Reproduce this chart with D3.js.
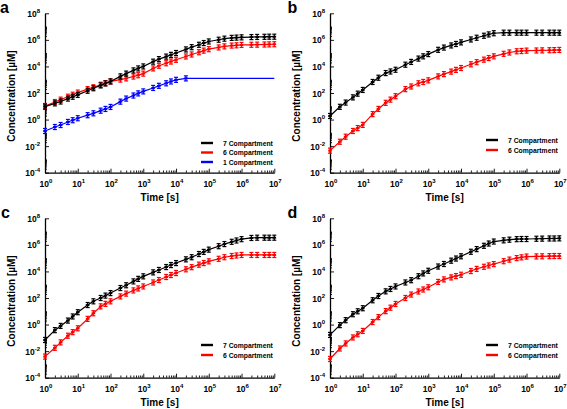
<!DOCTYPE html>
<html>
<head>
<meta charset="utf-8">
<script src="https://cdn.jsdelivr.net/npm/d3@7"></script>
<style>
body{margin:0;background:#fff;}
text{font-family:"Liberation Sans",Arial,Helvetica,sans-serif;font-weight:bold;fill:#000;}
</style>
</head>
<body>
<svg id="chart" width="567" height="409"></svg>
<script>
// ---------------- data ----------------
const times = [1,2,3,5,7, 10,20,30,50,70, 100,200,300,500,700, 1e3,2e3,3e3,5e3,7e3,
  1e4,2e4,3e4,5e4,7e4, 1e5,2e5,3e5,5e5,7e5, 1e6,2e6,3e6,5e6,7e6, 1e7];

// concentrations given as log10 of value in µM
const a_7comp_log10 = [0.97,1.22,1.36,1.58,1.72, 1.86,2.17,2.36,2.57,2.72, 2.87,3.25,3.46,3.70,3.85,
  4.00,4.36,4.55,4.74,4.87, 5.01,5.28,5.45,5.63,5.76, 5.88,6.01,6.09,6.15,6.17, 6.19,6.21,6.22,6.23,6.24, 6.24];
const a_6comp_log10 = [1.02,1.32,1.50,1.72,1.87, 2.03,2.29,2.43,2.62,2.74, 2.87,3.01,3.10,3.24,3.34,
  3.46,3.85,4.05,4.24,4.37, 4.50,4.75,4.90,5.07,5.19, 5.30,5.43,5.51,5.57,5.59, 5.62,5.63,5.64,5.65,5.66, 5.67];
const a_1comp_log10 = [-0.86,-0.56,-0.41,-0.18,-0.05, 0.10,0.33,0.47,0.67,0.80, 0.95,1.35,1.58,1.81,1.97,
  2.12,2.38,2.54,2.73,2.87, 2.99,3.10,3.10,3.10,3.10, 3.10,3.10,3.10,3.10,3.10, 3.10,3.10,3.10,3.10,3.10, 3.10];

const b_7comp_log10 = [0.27,0.96,1.28,1.67,1.95, 2.23,2.83,3.15,3.50,3.62, 3.75,4.13,4.34,4.59,4.76,
  4.93,5.25,5.42,5.58,5.69, 5.81,6.03,6.16,6.31,6.41, 6.50,6.54,6.54,6.54,6.54, 6.54,6.54,6.54,6.54,6.54, 6.54];
const b_6comp_log10 = [-2.34,-1.67,-1.29,-0.86,-0.64, -0.40,0.41,0.80,1.26,1.50, 1.76,2.29,2.49,2.73,2.83,
  2.95,3.25,3.42,3.61,3.74, 3.88,4.16,4.32,4.51,4.63, 4.76,4.95,5.05,5.14,5.16, 5.19,5.20,5.21,5.22,5.23, 5.24];

const c_7comp_log10 = [-1.16,-0.42,-0.10,0.30,0.61, 0.93,1.47,1.75,2.00,2.18, 2.37,2.75,2.96,3.25,3.44,
  3.63,3.93,4.11,4.33,4.48, 4.63,4.91,5.07,5.31,5.47, 5.64,5.90,6.06,6.23,6.33, 6.43,6.52,6.54,6.54,6.54, 6.54];
const c_6comp_log10 = [-2.41,-1.75,-1.34,-0.84,-0.57, -0.28,0.43,0.85,1.37,1.56, 1.75,2.12,2.33,2.57,2.72,
  2.87,3.17,3.35,3.58,3.73, 3.88,4.16,4.32,4.51,4.63, 4.76,4.95,5.07,5.16,5.20, 5.24,5.24,5.24,5.24,5.24, 5.24];

const d_7comp_log10 = [-0.78,-0.04,0.33,0.78,1.00, 1.23,1.83,2.15,2.50,2.68, 2.87,3.17,3.34,3.64,3.85,
  4.05,4.37,4.56,4.81,4.97, 5.14,5.48,5.68,5.93,6.10, 6.25,6.34,6.39,6.43,6.44, 6.44,6.46,6.47,6.48,6.48, 6.49];
const d_6comp_log10 = [-2.59,-1.80,-1.42,-0.97,-0.73, -0.48,0.19,0.56,1.01,1.27, 1.55,2.00,2.26,2.49,2.64,
  2.81,3.21,3.40,3.55,3.65, 3.75,4.03,4.19,4.35,4.45, 4.55,4.77,4.89,5.00,5.06, 5.12,5.13,5.14,5.15,5.16, 5.16];

const errorHalfLog10 = 0.19;           // error bar half-height (decades)
const blueMarkersUntil = 2e4;           // 1-compartment markers shown up to this time

const seriesNames = ["7 Compartment", "6 Compartment", "1 Compartment"];
const xTickExps = [0,1,2,3,4,5,6,7];
const yTickExps = [-4,-2,0,2,4,6,8];
const panelLabels = ["a","b","c","d"];
const xTitle = "Time [s]";
const yTitle = "Concentration [µM]";

// ---------------- layout ----------------
const colors = {"7 Compartment":"#000000","6 Compartment":"#ff0000","1 Compartment":"#0000ff"};
const panels = [
  {label:panelLabels[0], x0:45, x1:274.3, yT:13.3, yB:172.7, lx:0, ly:13,
   series:[["1 Compartment",a_1comp_log10],["6 Compartment",a_6comp_log10],["7 Compartment",a_7comp_log10]],
   legX:201, legY:[143,152.5,162]},
  {label:panelLabels[1], x0:330, x1:559.3, yT:13.3, yB:172.7, lx:287.5, ly:13,
   series:[["6 Compartment",b_6comp_log10],["7 Compartment",b_7comp_log10]],
   legX:486, legY:[140,150]},
  {label:panelLabels[2], x0:45, x1:274.3, yT:218.3, yB:377.7, lx:1, ly:218,
   series:[["6 Compartment",c_6comp_log10],["7 Compartment",c_7comp_log10]],
   legX:201, legY:[345,355]},
  {label:panelLabels[3], x0:330, x1:559.3, yT:218.3, yB:377.7, lx:287.5, ly:218,
   series:[["6 Compartment",d_6comp_log10],["7 Compartment",d_7comp_log10]],
   legX:486, legY:[345,355]}
];

const svg = d3.select("#chart");

function powLabel(g, x, y, exp, anchor){
  const t = g.append("text").attr("x", x).attr("y", y).attr("text-anchor", anchor)
    .style("font-size","8.5px");
  t.append("tspan").text("10");
  t.append("tspan").attr("dy", -4).style("font-size","6px").text(String(exp));
  return t;
}

panels.forEach(p => {
  const g = svg.append("g");
  const x = d3.scaleLog().domain([1, 1e7]).range([p.x0, p.x1]);
  const y = d3.scaleLog().domain([1e-4, 1e8]).range([p.yB, p.yT]);

  const xMinor = [];
  for (let k = 0; k < 7; k++) for (let m = 2; m <= 9; m++) xMinor.push(m * Math.pow(10, k));
  const yMinor = [];
  for (let k = -4; k < 8; k += 2) {
    for (let m = 2; m <= 9; m++) yMinor.push(m * Math.pow(10, k));
    yMinor.push(Math.pow(10, k + 1));
  }

  // x axis
  const gx = g.append("g").attr("transform", `translate(0,${p.yB})`);
  gx.call(d3.axisBottom(x).tickValues(xTickExps.map(e => Math.pow(10, e)))
      .tickSize(-4).tickSizeOuter(0).tickFormat(() => ""));
  const gxm = g.append("g").attr("transform", `translate(0,${p.yB})`);
  gxm.call(d3.axisBottom(x).tickValues(xMinor).tickSize(-2.2).tickSizeOuter(0).tickFormat(() => ""));
  gxm.select(".domain").remove();

  // y axis
  const gy = g.append("g").attr("transform", `translate(${p.x0},0)`);
  gy.call(d3.axisLeft(y).tickValues(yTickExps.map(e => Math.pow(10, e)))
      .tickSize(-4).tickSizeOuter(0).tickFormat(() => ""));
  const gym = g.append("g").attr("transform", `translate(${p.x0},0)`);
  gym.call(d3.axisLeft(y).tickValues(yMinor).tickSize(-2).tickSizeOuter(0).tickFormat(() => ""));
  gym.select(".domain").remove();

  g.selectAll(".domain").attr("stroke", "#000").attr("stroke-width", 1.3);
  g.selectAll(".tick line").attr("stroke", "#000").attr("stroke-width", 0.9);

  xTickExps.forEach(e => powLabel(g, x(Math.pow(10, e)) + 1, p.yB + 14.5, e, "middle"));
  yTickExps.forEach(e => powLabel(g, p.x0 - 5, y(Math.pow(10, e)) + 3.5, e, "end"));

  g.append("text").attr("x", (p.x0 + p.x1) / 2).attr("y", p.yB + 28.5)
    .attr("text-anchor", "middle").style("font-size", "10px").text(xTitle);
  g.append("text")
    .attr("transform", `translate(${p.x0 - 30},${(p.yT + p.yB) / 2 + 3}) rotate(-90)`)
    .attr("text-anchor", "middle").style("font-size", "10px").text(yTitle);
  g.append("text").attr("x", p.lx).attr("y", p.ly).style("font-size", "16px").text(p.label);

  const line = d3.line().x(d => x(d.t)).y(d => y(d.c));
  p.series.forEach(([name, vals]) => {
    const col = colors[name];
    const pts = times.map((t, i) => ({t: t, c: Math.pow(10, vals[i]), lg: vals[i]}));
    g.append("path").datum(pts).attr("d", line).attr("fill", "none")
      .attr("stroke", col).attr("stroke-width", 1.2);
    const mk = pts.filter(d => name !== "1 Compartment" || d.t <= blueMarkersUntil);
    const eb = g.append("g").attr("stroke", col).attr("stroke-width", 1.2);
    mk.forEach(d => {
      const cx = x(d.t);
      const yl = y(Math.pow(10, d.lg - errorHalfLog10));
      const yh = y(Math.pow(10, d.lg + errorHalfLog10));
      eb.append("line").attr("x1", cx).attr("x2", cx).attr("y1", yl).attr("y2", yh);
      eb.append("line").attr("x1", cx - 2).attr("x2", cx + 2).attr("y1", yl).attr("y2", yl);
      eb.append("line").attr("x1", cx - 2).attr("x2", cx + 2).attr("y1", yh).attr("y2", yh);
      eb.append("line").attr("x1", cx - 1.8).attr("x2", cx + 1.8).attr("y1", y(d.c)).attr("y2", y(d.c))
        .attr("stroke-width", 2);
    });
  });

  const legNames = p.series.length === 3 ? seriesNames : seriesNames.slice(0, 2);
  legNames.forEach((name, i) => {
    const ly = p.legY[i];
    g.append("line").attr("x1", p.legX).attr("x2", p.legX + 12).attr("y1", ly).attr("y2", ly)
      .attr("stroke", colors[name]).attr("stroke-width", 2.4);
    g.append("text").attr("x", p.legX + 22).attr("y", ly + 2.5).style("font-size", "6.8px").text(name);
  });
});
</script>
</body>
</html>
